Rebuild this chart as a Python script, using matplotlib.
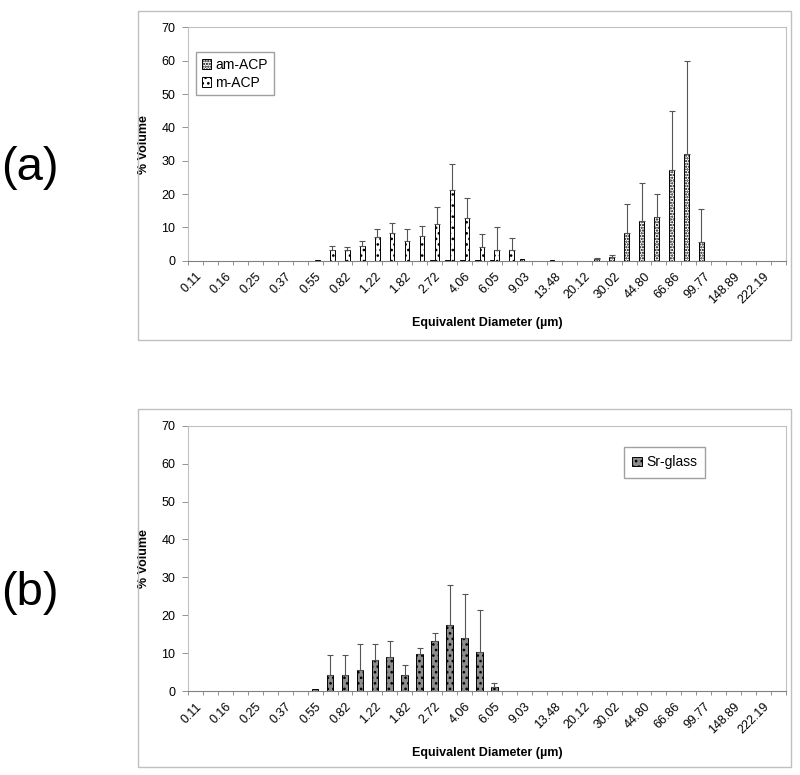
import numpy as np
import matplotlib.pyplot as plt
from matplotlib.patches import Rectangle

plt.rcParams['font.family'] = ['Liberation Sans', 'DejaVu Sans']
plt.rcParams['hatch.linewidth'] = 1.1

# bin sizes (um), 40 categories, only every other one is labelled
diameters = [0.11, 0.13, 0.16, 0.20, 0.25, 0.30, 0.37, 0.45, 0.55, 0.67,
             0.82, 1.00, 1.22, 1.49, 1.82, 2.23, 2.72, 3.32, 4.06, 4.96,
             6.05, 7.39, 9.03, 11.03, 13.48, 16.47, 20.12, 24.58, 30.02, 36.67,
             44.80, 54.73, 66.86, 81.68, 99.77, 121.88, 148.89, 181.89, 222.19, 271.44]
tick_labels = ['%.2f' % d for d in diameters]

# (a) % volume and upper error
am_acp = [0, 0, 0, 0, 0, 0, 0, 0, 0, 0,
          0, 0, 0, 0, 0, 0, 0.2, 0.3, 0.2, 0.2,
          0.2, 0, 0.4, 0, 0.3, 0, 0, 0.5, 1.1, 8.4,
          11.9, 13.1, 27.2, 31.9, 5.7, 0, 0, 0, 0, 0]
am_acp_sd = [0, 0, 0, 0, 0, 0, 0, 0, 0, 0,
             0, 0, 0, 0, 0, 0, 0, 0, 0, 0,
             0, 0, 0, 0, 0, 0, 0, 0.4, 0.5, 8.5,
             11.4, 6.9, 17.8, 28.0, 9.8, 0, 0, 0, 0, 0]
m_acp = [0, 0, 0, 0, 0, 0, 0, 0, 0.3, 3.3,
         3.2, 4.3, 7.2, 8.2, 5.8, 7.3, 11.1, 21.2, 12.7, 4.2,
         3.2, 3.1, 0, 0, 0, 0, 0, 0, 0, 0,
         0, 0, 0, 0, 0, 0, 0, 0, 0, 0]
m_acp_sd = [0, 0, 0, 0, 0, 0, 0, 0, 0, 1.0,
            1.0, 1.6, 2.3, 3.0, 3.7, 3.0, 5.1, 7.7, 6.2, 3.7,
            6.8, 3.8, 0, 0, 0, 0, 0, 0, 0, 0,
            0, 0, 0, 0, 0, 0, 0, 0, 0, 0]

# (b)
sr_glass = [0, 0.1, 0.1, 0.1, 0.1, 0.1, 0.1, 0.1, 0.4, 4.1,
            4.1, 5.6, 8.3, 8.9, 4.3, 9.8, 13.1, 17.5, 14.1, 10.3,
            1.0, 0, 0, 0, 0, 0, 0, 0, 0, 0,
            0, 0, 0, 0, 0, 0, 0, 0, 0, 0]
sr_glass_sd = [0, 0, 0, 0, 0, 0, 0, 0, 0, 5.3,
               5.3, 6.9, 4.2, 4.3, 2.6, 1.6, 2.1, 10.5, 11.4, 11.1,
               1.0, 0, 0, 0, 0, 0, 0, 0, 0, 0,
               0, 0, 0, 0, 0, 0, 0, 0, 0, 0]

x = np.arange(len(diameters))
W, H = 800, 775
fig = plt.figure(figsize=(W / 100, H / 100), dpi=100)


def err_bars(ax, xs, vals, sd):
    vals = np.array(vals)
    sd = np.array(sd)
    keep = sd > 0
    ax.errorbar(np.array(xs)[keep], vals[keep], yerr=[np.zeros(keep.sum()), sd[keep]],
                fmt='none', ecolor='#555555', elinewidth=0.8, capsize=2, capthick=0.8)


def style_axes(ax):
    ax.set_xlim(-0.5, len(diameters) - 0.5)
    ax.set_ylim(0, 70)
    ax.set_yticks(range(0, 80, 10))
    ax.set_xticks(x[::2])
    ax.set_xticklabels(tick_labels[::2], rotation=45, ha='right', rotation_mode='anchor')
    ax.set_xticks(np.arange(-0.5, len(diameters)), minor=True)
    ax.tick_params(axis='x', which='major', length=0, labelsize=9, pad=7)
    ax.tick_params(axis='x', which='minor', length=3, color='#808080', width=0.6)
    ax.tick_params(axis='y', length=4, color='#808080', width=0.6, labelsize=9, pad=5)
    for s in ['top', 'right', 'left']:
        ax.spines[s].set_color('#c0c0c0')
        ax.spines[s].set_linewidth(0.8)
    ax.spines['bottom'].set_color('#808080')
    ax.spines['bottom'].set_linewidth(0.8)
    ax.set_ylabel('% Volume', fontsize=9, fontweight='bold', labelpad=8)
    ax.set_xlabel('Equivalent Diameter (µm)', fontsize=9, fontweight='bold', labelpad=8)


# outer chart frames
fig.patches.append(Rectangle((138 / W, 1 - 340 / H), 653 / W, 329 / H, transform=fig.transFigure,
                             fill=False, edgecolor='#c0c0c0', lw=1))
fig.patches.append(Rectangle((138 / W, 1 - 767 / H), 653 / W, 358 / H, transform=fig.transFigure,
                             fill=False, edgecolor='#c0c0c0', lw=1))

#  -----
# | (a) |
#  -----
ax1 = fig.add_axes([188 / W, 1 - 260.7 / H, 598 / W, 233.2 / H])
w = 0.31
ax1.bar(x - w / 2, am_acp, w, color='white', edgecolor='black', linewidth=0.7,
        hatch='......', label='am-ACP')
ax1.bar(x + w / 2, m_acp, w, color='white', edgecolor='black', linewidth=0.7,
        hatch='...', label='m-ACP')
err_bars(ax1, x - w / 2, am_acp, am_acp_sd)
err_bars(ax1, x + w / 2, m_acp, m_acp_sd)
style_axes(ax1)
ax1.legend(loc='upper left', bbox_to_anchor=(0.0134, 0.895), borderaxespad=0, fontsize=10,
           fancybox=False, edgecolor='#a0a0a0', handlelength=0.7, handleheight=0.7,
           handletextpad=0.3, borderpad=0.4, labelspacing=0.3, framealpha=1)

#  -----
# | (b) |
#  -----
ax2 = fig.add_axes([188 / W, 1 - 691 / H, 598 / W, 265.3 / H])
wb = 0.45
ax2.bar(x, sr_glass, wb, color='#8c8c8c', edgecolor='black', linewidth=0.7,
        hatch='...', label='Sr-glass')
err_bars(ax2, x, sr_glass, sr_glass_sd)
style_axes(ax2)
ax2.legend(loc='upper left', bbox_to_anchor=(0.729, 0.92), borderaxespad=0, fontsize=10,
           fancybox=False, edgecolor='#a0a0a0', handlelength=0.7, handleheight=0.7,
           handletextpad=0.3, borderpad=0.6, framealpha=1)

fig.text(30 / W, 1 - 168 / H, '(a)', fontsize=34, ha='center', va='center')
fig.text(30 / W, 1 - 593 / H, '(b)', fontsize=34, ha='center', va='center')

plt.savefig('out.png', dpi=100)
